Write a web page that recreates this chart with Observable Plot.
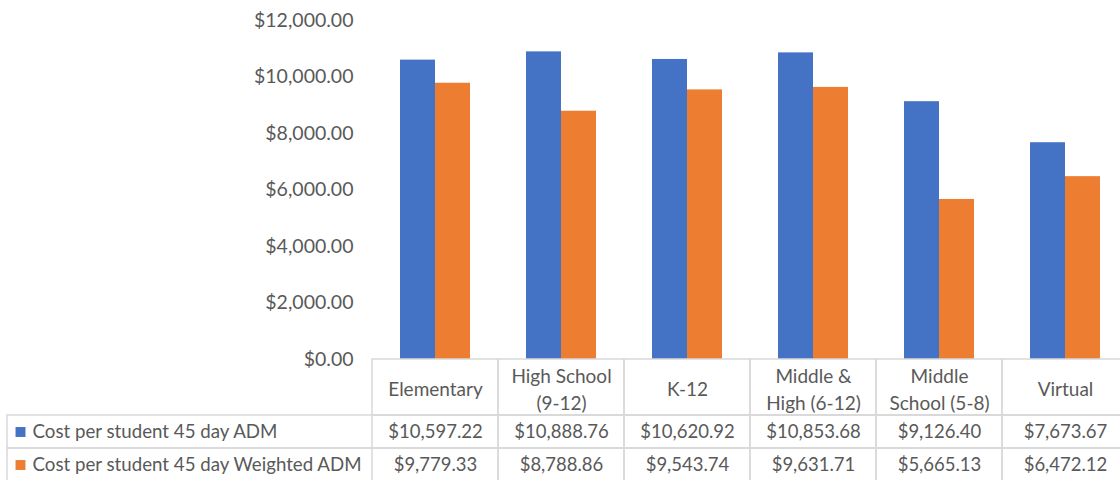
<!DOCTYPE html>
<html>
<head>
<meta charset="utf-8">
<script src="https://cdn.jsdelivr.net/npm/d3@7"></script>
<script src="https://cdn.jsdelivr.net/npm/@observablehq/plot@0.6"></script>
<style>
  html, body { margin: 0; padding: 0; background: #fff; }
  #wrap { width: 1120px; height: 480px; overflow: hidden; position: relative; font-family: Lato, "Open Sans", sans-serif; }
  #wrap svg { display: block; }
</style>
</head>
<body>
<div id="wrap"></div>
<script>
const categories = ["Elementary", "High School (9-12)", "K-12", "Middle & High (6-12)", "Middle School (5-8)", "Virtual"];
const headerLabels = ["Elementary", "High School\n(9-12)", "K-12", "Middle &\nHigh (6-12)", "Middle\nSchool (5-8)", "Virtual"];
const series = ["Cost per student 45 day ADM", "Cost per student 45 day Weighted ADM"];
const admValues = [10597.22, 10888.76, 10620.92, 10853.68, 9126.40, 7673.67];
const weightedAdmValues = [9779.33, 8788.86, 9543.74, 9631.71, 5665.13, 6472.12];
const yTicks = [0, 2000, 4000, 6000, 8000, 10000, 12000];
const colors = ["#4472C4", "#ED7D31"];

const seriesValues = [admValues, weightedAdmValues];
const data = [];
series.forEach((s, si) => categories.forEach((c, ci) => data.push({category: c, series: s, value: seriesValues[si][ci]})));

const fmt = d3.format("$,.2f");
const textColor = "#595959";
const gridColor = "#d9d9d9";
const font = "Lato, 'Open Sans', sans-serif";
const W = 1130;
const svgStyle = {background: "transparent", overflow: "visible", maxWidth: "none", fontFamily: font};

// Bars
const bars = Plot.plot({
  width: W, height: 359,
  marginLeft: 370, marginRight: 0, marginTop: 20, marginBottom: 0,
  style: svgStyle,
  fx: {domain: categories, padding: 0, axis: null},
  x: {domain: series, paddingInner: 0, paddingOuter: 0.76, axis: null},
  y: {domain: [0, 12000], axis: null},
  color: {domain: series, range: colors},
  marks: [
    Plot.barY(data, {fx: "category", x: "series", y: "value", fill: "series"}),
    Plot.axisY({ticks: yTicks, tickFormat: fmt, tickSize: 0, tickPadding: 19, fontSize: 19.5, fill: textColor, label: null})
  ]
});

// Table header row
const header = Plot.plot({
  width: W, height: 56,
  marginLeft: 0, marginRight: 0, marginTop: 0, marginBottom: 0,
  style: svgStyle,
  x: {type: "band", domain: categories, range: [370, W], padding: 0, axis: null},
  marks: [
    Plot.cell(categories, {x: d => d, fill: "none", stroke: gridColor, strokeWidth: 1.5}),
    Plot.text(categories, {x: d => d, text: (d, i) => headerLabels[i], frameAnchor: "middle", fontSize: 19, lineHeight: 1.42, fill: textColor})
  ]
});

// Table body rows
const body = Plot.plot({
  width: W, height: 65,
  marginLeft: 7, marginRight: 0, marginTop: 0, marginBottom: 0,
  style: svgStyle,
  x: {type: "band", domain: categories, range: [370, W], padding: 0, axis: null},
  y: {type: "band", domain: series, range: [0, 66], padding: 0, axis: null},
  color: {domain: series, range: colors},
  marks: [
    Plot.cell(series, {y: d => d, fill: "none", stroke: gridColor, strokeWidth: 1.5}),
    Plot.cell(data, {x: "category", y: "series", fill: "none", stroke: gridColor, strokeWidth: 1.5}),
    Plot.text(data, {x: "category", y: "series", text: d => fmt(d.value), fontSize: 18.5, fill: textColor}),
    Plot.dot(series, {y: d => d, frameAnchor: "left", dx: 13, symbol: "square", r: 5.6, fill: d => d, stroke: null}),
    Plot.text(series, {y: d => d, frameAnchor: "left", dx: 25, textAnchor: "start", text: d => d, fontSize: 18.7, fill: textColor})
  ]
});

const wrap = document.getElementById("wrap");
wrap.append(bars, header, body);
</script>
</body>
</html>
